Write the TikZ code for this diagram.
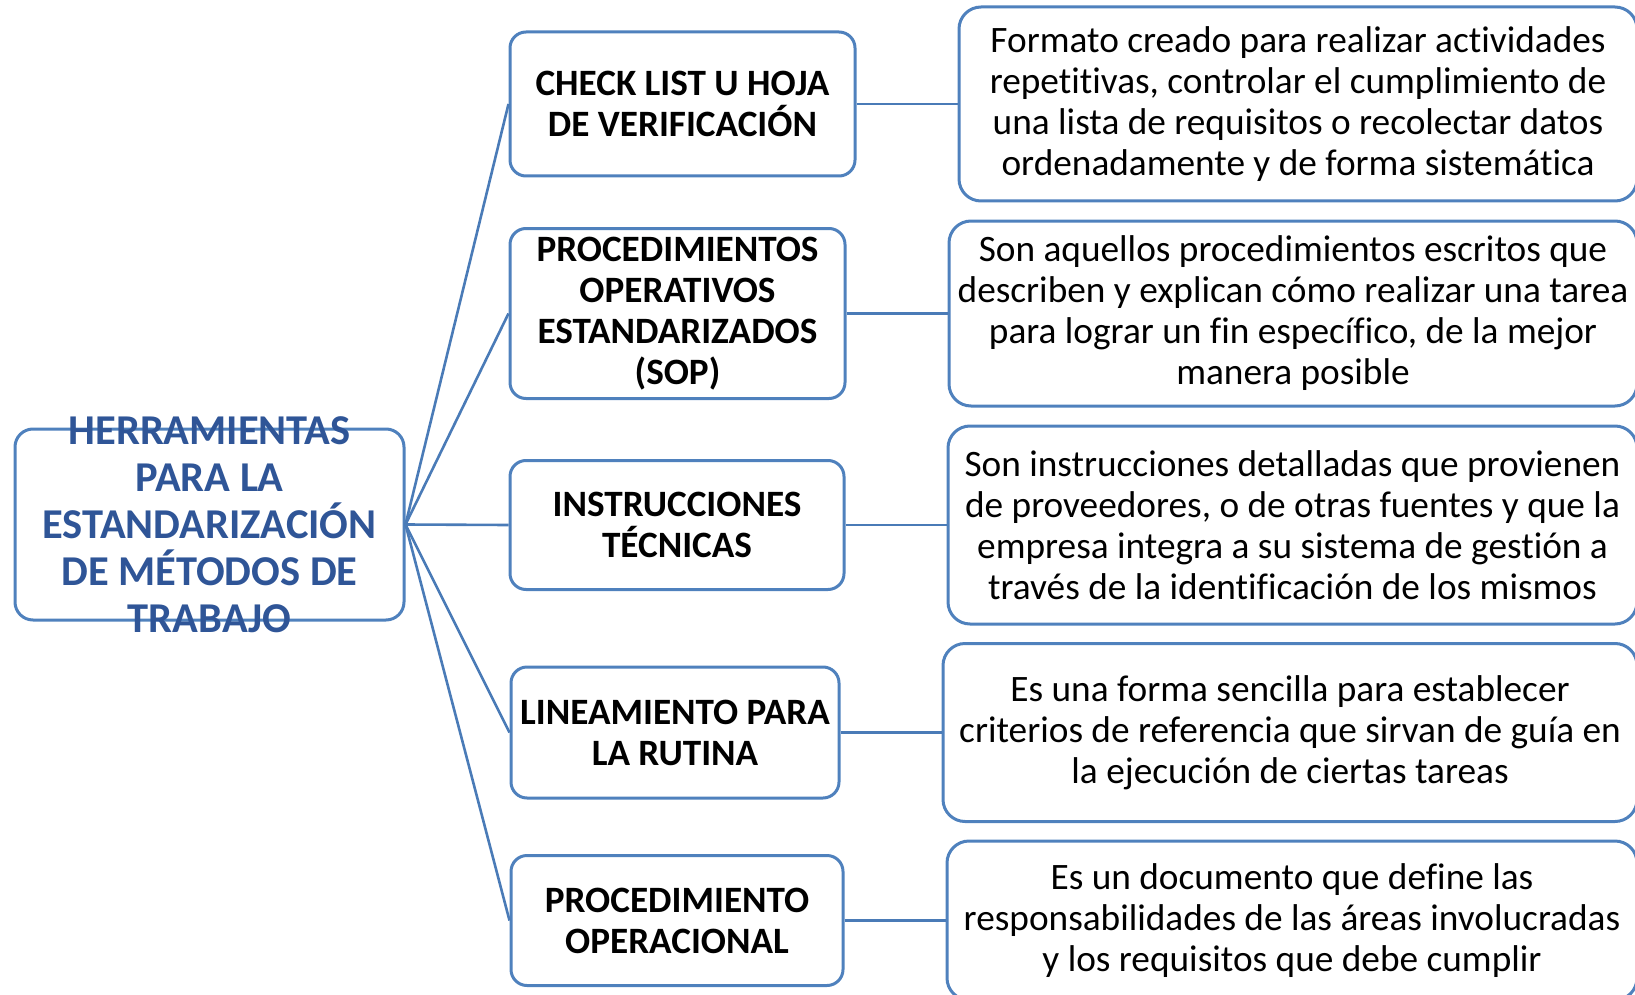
\documentclass[tikz,border=0pt]{standalone}
\usepackage{fontspec}
\setmainfont{Carlito}[Ligatures=NoCommon]
\usepackage{tikz}
\usetikzlibrary{positioning}
\definecolor{boxblue}{RGB}{79,129,189}
\definecolor{lineblue}{RGB}{74,123,183}
\definecolor{rootblue}{RGB}{47,85,151}
\tikzset{
  rootbox/.style={rectangle, draw=boxblue, fill=white, rounded corners=18pt,
    line width=3pt},
  roottext/.style={align=center, text=rootblue, inner sep=0pt,
    font=\fontsize{42.5}{47}\selectfont\bfseries},
  toolbox/.style={rectangle, draw=boxblue, fill=white, rounded corners=16pt,
    line width=3pt, align=center, text=black,
    font=\fontsize{37.2}{41}\selectfont\bfseries},
  descbox/.style={rectangle, draw=boxblue, fill=white, rounded corners=22pt,
    line width=3pt, align=center, text=black,
    font=\fontsize{37.3}{41}\selectfont},
  link/.style={line width=2.6pt, color=lineblue}
}
\begin{document}
\begin{tikzpicture}[x=1pt, y=-1pt]
  \useasboundingbox (0,0) rectangle (1635,995);
  \clip (0,0) rectangle (1635,995);

  % Root
  \node[rootbox, minimum width=389pt, minimum height=191pt] (root) at (209.5,524.5) {};
  \node[roottext] (rootlbl) at (root.center)
    {HERRAMIENTAS\\PARA LA\\ESTANDARIZACIÓN\\DE MÉTODOS DE\\TRABAJO};

  % Tools
  \node[toolbox, minimum width=345pt, minimum height=144pt] (check) at (682.5,104)
    {CHECK LIST U HOJA\\DE VERIFICACIÓN};
  \node[toolbox, minimum width=335pt, minimum height=170pt] (sop) at (677.5,313.5)
    {PROCEDIMIENTOS\\OPERATIVOS\\ESTANDARIZADOS\\(SOP)};
  \node[toolbox, minimum width=334pt, minimum height=129pt] (tecn) at (677,525)
    {INSTRUCCIONES\\TÉCNICAS};
  \node[toolbox, minimum width=328pt, minimum height=131pt] (rutina) at (675,732.5)
    {LINEAMIENTO PARA\\LA RUTINA};
  \node[toolbox, minimum width=332pt, minimum height=130pt] (operac) at (677,920.5)
    {PROCEDIMIENTO\\OPERACIONAL};

  % Descriptions
  \node[descbox, minimum width=678pt, minimum height=194pt] (checkd) at (1298,104)
    {Formato creado para realizar actividades\\repetitivas, controlar el cumplimiento de\\una lista de requisitos o recolectar datos\\ordenadamente y de forma sistemática};
  \node[descbox, minimum width=688pt, minimum height=185pt] (sopd) at (1293,313.5)
    {Son aquellos procedimientos escritos que\\describen y explican cómo realizar una tarea\\para lograr un fin específico, de la mejor\\manera posible};
  \node[descbox, minimum width=689pt, minimum height=198pt] (tecnd) at (1292.5,525)
    {Son instrucciones detalladas que provienen\\de proveedores, o de otras fuentes y que la\\empresa integra a su sistema de gestión a\\través de la identificación de los mismos};
  \node[descbox, minimum width=694pt, minimum height=178pt] (rutinad) at (1290,732.5)
    {Es una forma sencilla para establecer\\criterios de referencia que sirvan de guía en\\la ejecución de ciertas tareas};
  \node[descbox, minimum width=690pt, minimum height=159pt] (operacd) at (1292,920.5)
    {Es un documento que define las\\responsabilidades de las áreas involucradas\\y los requisitos que debe cumplir};

  % Connectors
  \foreach \t in {check, sop, tecn, rutina, operac} {
    \draw[link] (root.east) -- (\t.west);
    \draw[link] (\t.east) -- (\t d.west);
  }
\end{tikzpicture}
\end{document}
